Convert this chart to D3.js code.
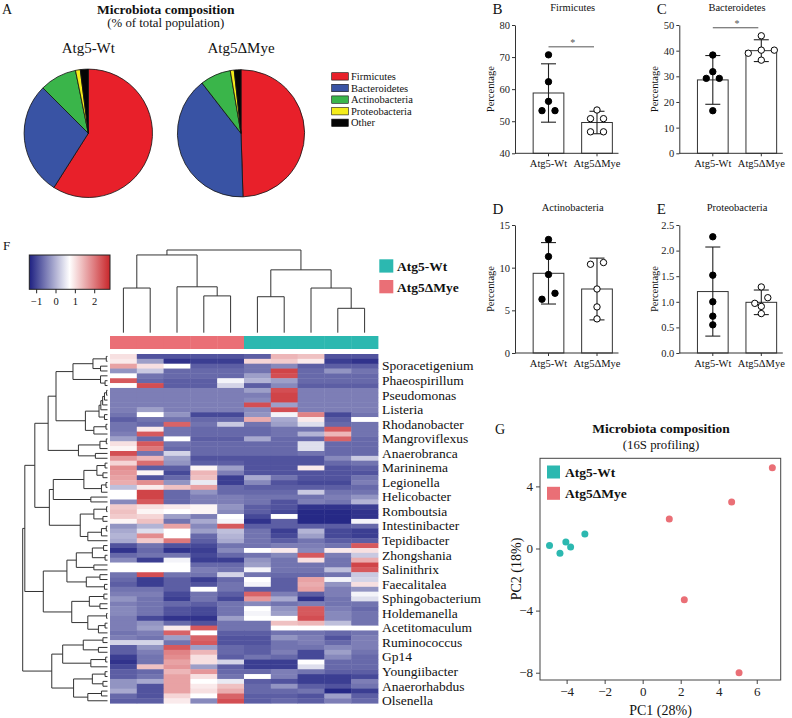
<!DOCTYPE html>
<html><head><meta charset="utf-8">
<script src="https://cdn.jsdelivr.net/npm/d3@7"></script>
<style>
body{margin:0;background:#fff}
svg{display:block}
text{font-family:"Liberation Serif",serif;fill:#111}
</style>
</head><body>
<svg id="c" width="792" height="718"></svg>
<script>
// ================= DATA =================
const phyla = ["Firmicutes","Bacteroidetes","Actinobacteria","Proteobacteria","Other"];
const groups = ["Atg5-Wt","Atg5ΔMye"];
const pieWt  = [59.0, 28.5, 9.3, 1.2, 2.0];
const pieMye = [49.5, 40.0, 7.8, 1.0, 1.7];

const firmWt = [70.7, 62.3, 56.2, 53.3, 53.3];
const firmMye = [53.5, 50.8, 50.8, 46.7, 46.7];
const firmMean = [58.8, 49.6];
const firmSD = [9.1, 3.5];

const bactWt = [38.3, 31.8, 29.2, 29.2, 16.6];
const bactMye = [45.8, 40.2, 40.2, 39.0, 36.3];
const bactMean = [28.6, 40.0];
const bactSD = [9.5, 4.25];

const actWt = [13.3, 11.3, 9.2, 7.0, 6.3];
const actMye = [10.6, 10.4, 7.5, 5.4, 4.0];
const actMean = [9.34, 7.5];
const actSD = [3.6, 3.62];

const protWt = [2.27, 1.52, 1.0, 0.72, 0.55];
const protMye = [1.29, 1.08, 0.97, 0.91, 0.77];
const protMean = [1.2, 0.99];
const protSD = [0.87, 0.24];

// heatmap (row z-scores), columns: 5 Atg5ΔMye then 5 Atg5-Wt
const colGroup = ["Atg5ΔMye","Atg5ΔMye","Atg5ΔMye","Atg5ΔMye","Atg5ΔMye","Atg5-Wt","Atg5-Wt","Atg5-Wt","Atg5-Wt","Atg5-Wt"];
const heat = [
[1.0,-0.9,-0.9,-0.9,-0.9,-0.8,1.4,1.3,-0.9,-0.9],
[0.9,-0.2,-1.2,-1.1,-1.1,1.1,1.2,0.9,-1.1,-1.2],
[1.6,1.0,0.7,-0.8,-0.8,-0.6,-0.4,-0.8,-0.8,-0.8],
[-0.3,0.2,-0.7,-0.7,-0.7,-0.6,2.5,-0.7,-0.3,-0.6],
[0.7,-0.6,-0.7,-0.7,-0.7,-0.2,2.4,-0.7,-0.7,-0.7],
[2.3,-0.7,-0.8,-0.8,0.6,0.0,-0.2,-0.7,-0.7,-0.7],
[0.7,2.4,-0.8,-0.8,0.3,-0.8,-0.4,-0.8,-0.8,-0.8],
[-0.5,-0.5,-0.5,-0.5,-0.5,-0.2,2.4,-0.5,-0.5,-0.5],
[-0.5,-0.5,-0.5,-0.5,-0.5,-0.5,2.5,-0.5,-0.5,-0.5],
[-0.5,-0.5,-0.5,-0.5,-0.5,-0.4,2.5,-0.5,-0.5,-0.5],
[-0.5,-0.5,-0.5,-0.5,-0.5,2.4,-0.2,-0.5,-0.5,-0.5],
[-0.5,-0.2,-0.5,-0.5,-0.5,-0.4,2.4,-0.5,-0.5,-0.5],
[-0.6,0.7,-0.3,-1.0,-1.0,-0.3,0.6,1.9,-1.0,-0.6],
[-0.8,-0.6,-0.6,-0.7,-0.7,1.5,-0.1,0.9,-0.8,0.7],
[-0.6,-0.7,2.2,-0.6,0.2,-0.6,-0.2,0.4,-0.7,-0.6],
[-0.6,0.9,-0.6,-0.7,-0.7,-0.7,-0.6,-0.6,2.3,-0.6],
[-0.5,2.3,-0.6,-0.7,-0.7,-0.7,-0.6,0.0,1.4,-0.6],
[-0.2,-0.7,0.7,-0.8,-0.8,-0.1,-0.7,-0.7,2.2,-0.7],
[1.0,2.3,-0.6,-0.7,-0.7,-0.7,-0.7,0.4,-0.7,-0.7],
[0.8,2.0,-0.7,-0.7,-0.7,-0.7,-0.7,0.4,-0.7,-0.7],
[2.4,-0.6,0.3,-0.7,-0.7,-0.7,-0.7,-0.6,-0.7,-0.7],
[1.7,1.4,-0.2,-0.9,-0.9,-0.9,-0.9,-0.9,-0.4,0.2],
[1.1,2.1,-0.3,-0.8,-0.8,-0.9,-0.9,-0.9,-0.7,-0.6],
[1.8,-0.8,-0.8,0.8,-0.2,-0.9,-0.9,0.9,-0.9,-0.8],
[1.7,0.8,-1.0,1.4,-0.5,-0.9,-0.9,-0.9,-0.9,-0.9],
[1.6,-0.9,-0.7,1.3,-1.1,-0.1,-0.6,-0.9,-0.9,-0.6],
[1.5,1.8,-0.3,0.5,-1.1,-0.4,-0.9,-1.0,-1.0,-0.5],
[0.1,0.9,1.3,1.6,-0.7,-0.8,-0.8,-0.8,-0.8,-0.7],
[0.7,2.5,-0.7,-0.3,-0.7,-0.7,-0.7,0.2,-0.6,-0.6],
[0.7,2.5,-0.7,-0.5,-0.5,-0.6,-0.6,-0.6,-0.5,-0.3],
[-0.4,2.3,-0.7,-0.5,-0.5,-0.6,-0.9,-0.5,-0.6,0.0],
[1.2,1.0,0.9,0.8,-0.3,-0.8,-0.9,-1.2,-1.2,-1.1],
[1.3,0.8,0.7,0.8,-0.4,-0.8,-1.0,-1.3,-1.3,-1.2],
[1.2,1.1,-0.2,-0.5,0.7,-1.0,0.7,-1.3,-1.3,-1.2],
[0.8,1.3,-0.6,-0.1,0.6,-1.2,-0.8,-1.3,-1.3,0.6],
[-0.3,0.0,1.6,-0.4,2.3,-0.8,-0.8,-0.8,-0.8,-0.7],
[-0.1,0.4,0.7,-0.2,0.1,-0.6,-1.1,0.0,-1.0,-1.1],
[0.0,1.8,0.7,-0.7,0.0,-0.6,-1.0,-0.2,-1.0,-1.1],
[-0.1,1.2,2.0,-0.8,-0.1,-0.6,-0.8,-0.6,-0.8,-0.8],
[-0.9,-0.6,-0.9,-1.0,-0.6,-0.6,-0.5,-0.5,-0.6,2.3],
[-1.2,-0.7,-1.2,-1.1,-0.4,0.7,0.9,-0.4,0.9,1.0],
[-0.7,-0.6,-0.6,-1.0,-0.7,-0.6,-0.4,2.3,-0.5,0.2],
[-0.4,-1.1,0.6,-1.1,-1.1,-0.3,-0.6,1.0,-0.6,1.5],
[0.7,0.7,0.7,-0.7,-0.7,-0.2,-0.6,-0.6,-0.6,2.5],
[0.7,0.7,0.7,-0.5,-0.6,0.6,-0.6,-0.6,0.1,2.3],
[-0.6,2.4,-0.6,-0.6,0.3,-0.6,-0.7,-0.7,-0.6,0.2],
[-0.7,-1.1,-0.8,-1.1,-0.7,0.7,-0.8,1.6,0.6,0.3],
[-0.8,-1.1,-0.8,-0.9,-0.6,0.6,-0.8,1.5,-0.3,1.0],
[-0.6,-0.6,-0.8,0.7,-0.6,-0.8,-0.8,1.6,-0.5,-0.3],
[-0.5,-0.5,-1.0,-0.6,-0.8,2.2,-0.5,-0.8,-0.5,0.6],
[-0.3,-0.6,-1.1,-0.6,-1.0,1.7,-0.1,-1.2,-0.6,0.4],
[-0.5,-0.6,-0.7,-0.8,-0.6,-0.4,-0.6,-0.5,-0.6,-0.6],
[-0.4,-0.6,-0.9,-1.0,-0.6,0.7,-0.3,2.3,-0.5,-0.7],
[-0.4,-0.6,-0.9,-1.0,-0.6,0.6,-0.2,2.3,-0.4,-0.6],
[-0.5,-1.0,-1.2,-1.2,-0.2,0.7,0.7,2.4,-0.4,-0.6],
[-0.5,-0.3,-0.7,-0.9,-0.6,-0.6,1.3,1.4,0.1,-0.6],
[-0.5,-0.2,0.9,2.3,-0.6,-0.6,0.7,0.7,0.7,0.7],
[-0.6,-0.5,2.2,0.7,-0.8,-0.8,-0.6,-0.6,-0.7,-0.6],
[-0.5,-0.6,-0.2,2.2,-0.9,-0.9,-0.3,-0.5,-0.9,-0.5],
[0.3,0.3,-0.6,2.3,-0.9,-0.9,-0.6,-0.5,-0.7,-0.5],
[-0.8,-0.3,2.3,-0.2,-0.7,-0.8,-0.6,-0.6,-0.4,-0.5],
[-0.8,-0.5,1.9,1.4,-0.7,-0.8,-0.5,-1.0,-0.2,-0.6],
[-1.1,-0.6,1.8,1.0,-0.8,-0.6,-0.7,-1.0,-0.4,-0.7],
[-1.2,-0.6,1.6,1.0,0.3,-1.1,-1.1,0.7,-0.7,-0.7],
[-1.0,1.3,1.7,-0.2,-0.8,-1.1,-1.1,0.4,-0.7,-0.7],
[-0.8,-0.7,1.4,1.7,-0.7,-0.7,-0.5,-0.6,-0.8,-0.8],
[-0.8,-0.6,1.6,1.0,-0.6,0.7,-0.5,-1.1,-1.1,-1.0],
[-0.3,-0.1,1.6,0.7,0.5,-0.8,-0.9,-1.1,-1.1,-0.5],
[-0.3,-0.9,1.6,0.9,1.3,-0.7,-0.3,-0.8,-0.9,-0.6],
[-0.1,-0.9,1.6,1.0,1.5,-0.7,-0.7,-0.6,-1.3,-1.1],
[-0.7,-0.9,1.1,0.7,2.2,-0.8,-0.8,-0.9,-0.2,-0.8],
[-0.8,-0.8,0.9,-0.4,2.4,-0.8,-0.7,-0.8,-0.5,-0.7]
];
const genera = ["Sporacetigenium","Phaeospirillum","Pseudomonas","Listeria","Rhodanobacter","Mangroviflexus","Anaerobranca","Marininema","Legionella","Helicobacter","Romboutsia","Intestinibacter","Tepidibacter","Zhongshania","Salinithrix","Faecalitalea","Sphingobacterium","Holdemanella","Acetitomaculum","Ruminococcus","Gp14","Youngiibacter","Anaerorhabdus","Olsenella"];
const legendTicks = [-1, 0, 1, 2];
const zRange = [-1.38, 0.7, 2.79];

// dendrograms: [height, left, right], leaves = index
const colTree = [10, [9.4, [5.4, 0, 1], [5.55, 2, [4.45, 3, 4]]], [7.6, [4.35, 5, 6], [5.4, 7, [2.95, 8, 9]]]];
const clA = [11.4, [4.8, [0.4,0,1], [2.3,2,3]], [2.3, 4, [0.8,5,6]]];
const clB = [7.3, [2.8, [2.2, [1.6, [1.0, [0.3,7,8], 9], 10], 11], [1.0,12,13]], [4.5, [0.5,14,15], 16]];
const clC = [9.6, [2.5, [0.4,17,18], 19], [4.0,20,21]];
const clD1 = [17.9, [7.8, [3.5,[0.8,22,23],[1.5,24,25]], [2.0,[0.5,26,27],28]], [5.5,29,30]];
const clD2 = [9.0, [4.5, [0.3,31,32], [1.5,33,34]], [6.5, [2.0,[0.4,35,36],37], 38]];
const clE1 = [13.4, [10.3, [5.0,[1.3,39,40],[0.8,41,42]], [4.5,43,44]], [7.0, [2.5,45,46], [1.0,47,48]]];
const clE2 = [11.8, [6.0, [1.2,49,50], [2.5,51,52]], [6.5, [0.3,53,54], [3.0,[0.8,55,56],57]]];
const clF1 = [14.8, [8.0, [1.5,58,59], [3.0,60,61]], [5.5, [0.6,62,63], 64]];
const clF2 = [11.2, [5.0, [0.8,65,66], [1.5,67,68]], [6.5, [2.0,69,70], 71]];
const rowTree = [28, [27.3, [24, [19.6, [17, clA, clB], clC], [19.2, clD1, clD2]], [21.2, clE1, clE2]], [18.4, clF1, clF2]];

// PCA
const pcaWt = [[-3.04,0.93],[-4.04,0.42],[-3.79,0.1],[-4.35,-0.31],[-4.9,0.2]];
const pcaMye = [[6.82,5.2],[4.68,3.0],[1.40,1.9],[2.19,-3.3],[5.07,-8.0]];
const pcaXTicks = [-4,-2,0,2,4,6];
const pcaYTicks = [4,0,-4,-8];

// ================= DRAW =================
const svg = d3.select("#c");
const TEAL = "#2cb8b0", PINK = "#ea6f76";
const groupColor = d3.scaleOrdinal().domain(groups).range([TEAL, PINK]);

function txt(x,y,s,size,opts={}){
  const t = svg.append("text").attr("x",x).attr("y",y).attr("font-size",size).text(s);
  if(opts.anchor) t.attr("text-anchor",opts.anchor);
  if(opts.bold) t.attr("font-weight","bold");
  if(opts.rot) t.attr("transform",`rotate(-90,${x},${y})`);
  if(opts.fill) t.style("fill",opts.fill);
  return t;
}

// ---- Panel A ----
txt(2,14,"A",14);
txt(165.8,14,"Microbiota composition",13.5,{anchor:"middle",bold:true});
txt(165.8,26.8,"(% of total population)",12.8,{anchor:"middle"});
const pieColor = d3.scaleOrdinal().domain(phyla).range(["#e8202a","#3953a4","#3ab54a","#f4ec1a","#050505"]);
const pieGen = d3.pie().sort(null).value(d=>d.v);
[{vals:pieWt, cx:88.3, r:64.2, name:groups[0]},{vals:pieMye, cx:241, r:63.6, name:groups[1]}].forEach(p=>{
  const arc = d3.arc().innerRadius(0).outerRadius(p.r);
  const g = svg.append("g").attr("transform",`translate(${p.cx},133.3)`);
  g.selectAll("path").data(pieGen(phyla.map((k,i)=>({k, v:p.vals[i]})))).join("path")
    .attr("d",arc).attr("fill",d=>pieColor(d.data.k)).attr("stroke","#111").attr("stroke-width",0.8);
  txt(p.cx,52.7,p.name,15,{anchor:"middle"});
});
phyla.forEach((k,i)=>{
  const y = 76.4 + 11.6*i;
  svg.append("rect").attr("x",331.7).attr("y",y-3.7).attr("width",16.6).attr("height",7.4)
    .attr("fill",pieColor(k)).attr("stroke","#111").attr("stroke-width",0.6);
  txt(351,y+3.6,k,10.5);
});

// ---- Panels B-E ----
const barPanels = [
  {L:"B", title:"Firmicutes", x0:515, yTop:25, yBot:153.3, dom:[40,80], ticks:[40,50,60,70,80], fmt:"d", mean:firmMean, sd:firmSD, pts:[firmWt,firmMye], sig:true},
  {L:"C", title:"Bacteroidetes", x0:679.3, yTop:25, yBot:153.3, dom:[0,50], ticks:[0,10,20,30,40,50], fmt:"d", mean:bactMean, sd:bactSD, pts:[bactWt,bactMye], sig:true},
  {L:"D", title:"Actinobacteria", x0:515, yTop:225, yBot:353, dom:[0,15], ticks:[0,5,10,15], fmt:"d", mean:actMean, sd:actSD, pts:[actWt,actMye], sig:false},
  {L:"E", title:"Proteobacteria", x0:679.3, yTop:225, yBot:353, dom:[0,2.5], ticks:[0,0.5,1,1.5,2,2.5], fmt:".1f", mean:protMean, sd:protSD, pts:[protWt,protMye], sig:false}
];
function swarm(vals, y, cx){
  const s = vals.map(v=>({v, py:y(v)})).sort((a,b)=>a.py-b.py);
  const cl = [];
  s.forEach(p=>{ const c = cl[cl.length-1]; if(c && Math.abs(p.py-c[0].py) < 6.5) c.push(p); else cl.push([p]); });
  cl.forEach(c=>{ c.sort((a,b)=>a.v-b.v); c.forEach((p,i)=>p.px = cx + (i-(c.length-1)/2)*13); });
  return s;
}
barPanels.forEach(p=>{
  const g = svg.append("g");
  const y = d3.scaleLinear().domain(p.dom).range([p.yBot,p.yTop]);
  const x = d3.scalePoint().domain(groups).range([p.x0+33.5, p.x0+82]);
  const bw = 30.7;
  txt(p.x0-22.5, p.yTop-11, p.L, 15);
  txt(p.x0+57.7, p.yTop-14, p.title, 10.5, {anchor:"middle"});
  txt(p.x0-24.5, (p.yTop+p.yBot)/2, "Percentage", 10.5, {anchor:"middle", rot:true}).attr("dy","0.35em");
  g.selectAll("rect").data(groups).join("rect")
    .attr("x",d=>x(d)-bw/2).attr("y",(d,i)=>y(p.mean[i])).attr("width",bw)
    .attr("height",(d,i)=>p.yBot-y(p.mean[i])).attr("fill","#fff").attr("stroke","#333").attr("stroke-width",1);
  groups.forEach((gn,i)=>{
    const cx = x(gn), hi = y(p.mean[i]+p.sd[i]), lo = y(p.mean[i]-p.sd[i]);
    g.append("line").attr("x1",cx).attr("x2",cx).attr("y1",hi).attr("y2",lo).attr("stroke","#222").attr("stroke-width",1.1);
    [hi,lo].forEach(yy=>g.append("line").attr("x1",cx-7.5).attr("x2",cx+7.5).attr("y1",yy).attr("y2",yy).attr("stroke","#222").attr("stroke-width",1.1));
    const pts = swarm(p.pts[i], y, cx);
    g.selectAll(null).data(pts).join("circle").attr("cx",d=>d.px).attr("cy",d=>d.py).attr("r",3.2)
      .attr("fill",i===0?"#000":"#fff").attr("stroke","#000").attr("stroke-width",1);
  });
  const ax = g.append("g").attr("transform",`translate(${p.x0},0)`)
    .call(d3.axisLeft(y).tickValues(p.ticks).tickSize(3).tickSizeOuter(0).tickPadding(2).tickFormat(d3.format(p.fmt)));
  ax.attr("font-family","Liberation Serif").attr("font-size",10.5);
  ax.selectAll("path,line").attr("stroke","#333");
  ax.selectAll("text").style("fill","#222");
  g.append("line").attr("x1",p.x0).attr("x2",p.x0+103.5).attr("y1",p.yBot).attr("y2",p.yBot).attr("stroke","#333");
  groups.forEach(gn=>{
    g.append("line").attr("x1",x(gn)).attr("x2",x(gn)).attr("y1",p.yBot).attr("y2",p.yBot+3).attr("stroke","#333");
    txt(x(gn), p.yBot+13.8, gn, 10.5, {anchor:"middle"});
  });
  if(p.sig){
    const top = y(d3.max(p.pts.flat()));
    const sy = top - 8;
    g.append("line").attr("x1",x(groups[0])).attr("x2",x(groups[1])-3).attr("y1",sy).attr("y2",sy).attr("stroke","#555").attr("stroke-width",1);
    txt((x(groups[0])+x(groups[1]))/2, sy-1, "*", 10, {anchor:"middle", fill:"#555"});
  }
});

// ---- Panel F: heatmap ----
txt(3,249.5,"F",13);
const hx = d3.scaleBand().domain(d3.range(colGroup.length)).range([110,378]);
const hy = d3.scaleBand().domain(d3.range(heat.length)).range([354,703.2]);
const hcolor = d3.scaleLinear().domain(zRange).range(["#1d2081","#ffffff","#c9262b"]);
const hm = svg.append("g");
heat.forEach((row,r)=>{
  hm.selectAll(null).data(row).join("rect")
    .attr("x",(d,c)=>hx(c)).attr("y",hy(r)).attr("width",hx.bandwidth()+0.4).attr("height",hy.bandwidth()+0.4)
    .attr("fill",d=>hcolor(d));
});
svg.append("g").selectAll("rect").data(colGroup).join("rect")
  .attr("x",(d,i)=>hx(i)).attr("y",336).attr("width",hx.bandwidth()+0.4).attr("height",13)
  .attr("fill",d=>groupColor(d));
genera.forEach((name,i)=>{
  const r = 2 + 3*i;
  txt(382, hy(r)+hy.bandwidth()/2+4.3, name, 13.5);
});
function toNode(n){ return Array.isArray(n) ? {h:n[0], children:n.slice(1).map(toNode)} : {h:0, leaf:n}; }
function drawDendro(tree, leafPos, hScale, horizontal){
  const root = d3.hierarchy(toNode(tree));
  root.eachAfter(d=>{
    d.pos = d.children ? d3.mean(d.children, c=>c.pos) : leafPos(d.data.leaf);
    d.hp = hScale(d.data.h);
  });
  const g = svg.append("g").attr("stroke","#333").attr("stroke-width",1).attr("fill","none");
  const seg = (a,b,c,e)=> horizontal ? g.append("line").attr("x1",a).attr("y1",b).attr("x2",c).attr("y2",e)
                                      : g.append("line").attr("y1",a).attr("x1",b).attr("y2",c).attr("x2",e);
  root.each(d=>{
    if(!d.children) return;
    const ps = d.children.map(c=>c.pos);
    seg(d.hp, d3.min(ps), d.hp, d3.max(ps));
    d.children.forEach(c=> seg(d.hp, c.pos, c.hp, c.pos));
  });
}
drawDendro(rowTree, r=>hy(r)+hy.bandwidth()/2, d3.scaleLinear().domain([0,28]).range([107.5,22.7]), true);
drawDendro(colTree, c=>hx(c)+hx.bandwidth()/2, d3.scaleLinear().domain([0,10]).range([332.7,250]), false);
const lx = d3.scaleLinear().domain([zRange[0], zRange[2]]).range([29.3,110]);
const defs = svg.append("defs");
const grad = defs.append("linearGradient").attr("id","hg");
d3.range(0,1.0001,0.05).forEach(t=>{
  const v = zRange[0] + t*(zRange[2]-zRange[0]);
  grad.append("stop").attr("offset",t).attr("stop-color",hcolor(v));
});
svg.append("rect").attr("x",29.3).attr("y",255).attr("width",80.7).attr("height",34.3).attr("fill","url(#hg)").attr("stroke","#222").attr("stroke-width",1);
legendTicks.forEach(t=>{
  svg.append("line").attr("x1",lx(t)).attr("x2",lx(t)).attr("y1",289.3).attr("y2",293.3).attr("stroke","#222");
  txt(lx(t), 305, d3.format("d")(t), 10.5, {anchor:"middle"});
});
[["Atg5-Wt",259.3,270.6],["Atg5ΔMye",280,291.6]].forEach(([g,ry,ty])=>{
  svg.append("rect").attr("x",379.3).attr("y",ry).attr("width",14).attr("height",13.3).attr("fill",groupColor(g));
  txt(397, ty, g, 13.5, {bold:true});
});

// ---- Panel G: PCA ----
txt(495,433.5,"G",14);
txt(661,433,"Microbiota composition",13.5,{anchor:"middle",bold:true});
txt(661,449,"(16S profiling)",12.8,{anchor:"middle"});
const px = d3.scaleLinear().domain([-5.4,7.26]).range([540,780.7]);
const py = d3.scaleLinear().domain([-8.47,5.81]).range([680,458.3]);
const pg = svg.append("g");
pg.append("rect").attr("x",540).attr("y",458.3).attr("width",240.7).attr("height",221.7).attr("fill","none").attr("stroke","#444").attr("stroke-width",1);
const xa = pg.append("g").attr("transform","translate(0,680)").call(d3.axisBottom(px).tickValues(pcaXTicks).tickSize(4).tickSizeOuter(0).tickPadding(3).tickFormat(d3.format("d")));
const ya = pg.append("g").attr("transform","translate(540,0)").call(d3.axisLeft(py).tickValues(pcaYTicks).tickSize(4).tickSizeOuter(0).tickPadding(3).tickFormat(d3.format("d")));
[xa,ya].forEach(a=>{ a.attr("font-family","Liberation Serif").attr("font-size",13); a.selectAll("path").remove(); a.selectAll("line").attr("stroke","#444"); a.selectAll("text").style("fill","#222"); });
pg.selectAll("circle.w").data(pcaWt).join("circle").attr("cx",d=>px(d[0])).attr("cy",d=>py(d[1])).attr("r",3.5).attr("fill",TEAL);
pg.selectAll("circle.m").data(pcaMye).join("circle").attr("cx",d=>px(d[0])).attr("cy",d=>py(d[1])).attr("r",3.5).attr("fill",PINK);
txt(660.5,714.5,"PC1 (28%)",14,{anchor:"middle"});
txt(521,569,"PC2 (18%)",14,{anchor:"middle",rot:true});
[["Atg5-Wt",465.5,476.8],["Atg5ΔMye",486.8,497.5]].forEach(([g,ry,ty])=>{
  svg.append("rect").attr("x",547).attr("y",ry).attr("width",13).attr("height",13).attr("fill",groupColor(g));
  txt(565, ty, g, 13.5, {bold:true});
});
</script>
</body></html>
